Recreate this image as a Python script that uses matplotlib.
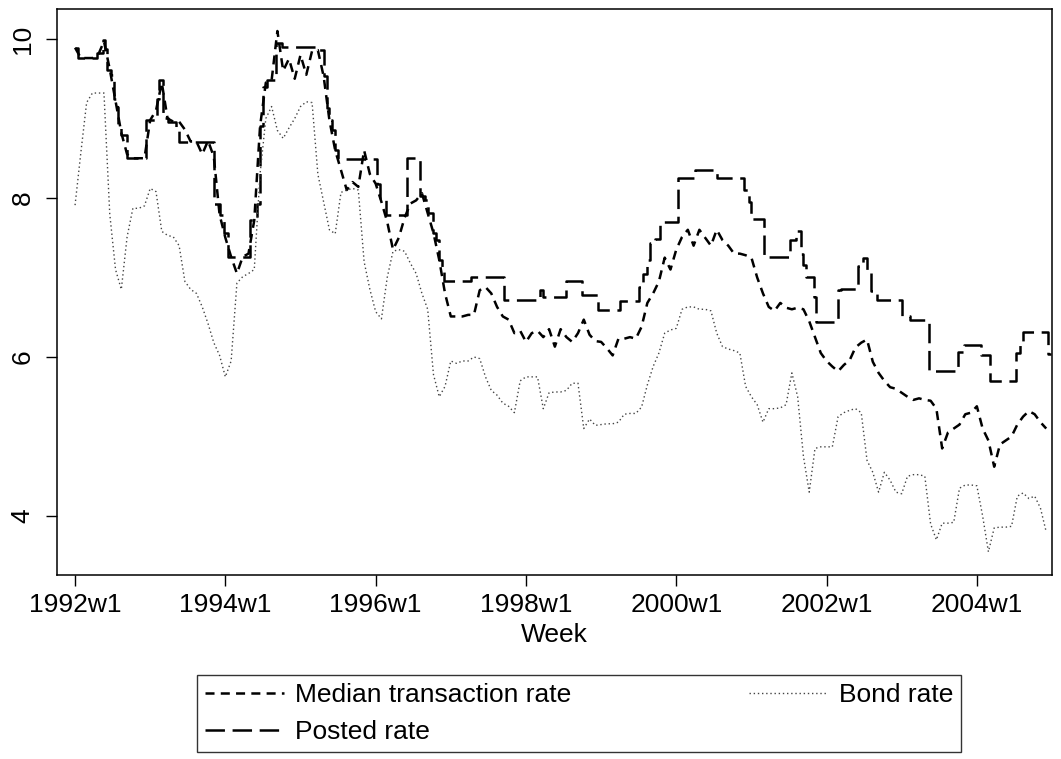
import matplotlib
matplotlib.use('Agg')
import matplotlib.pyplot as plt

plt.rcParams['font.family'] = ['Liberation Sans', 'DejaVu Sans']
plt.rcParams['lines.scale_dashes'] = False

### Data (weeks counted from 1992w1, 52 weeks per year) ###

# Median transaction rate and bond rate, read every 4 weeks
sample_weeks = list(range(0, 673, 4))

median_rate = [
    9.89, 9.76, 9.76, 9.76, 9.80, 9.97, 9.62, 9.22, 8.82, 8.55, 8.50, 8.50, 8.50,  # 1992
    8.98, 9.10, 9.45, 9.00, 8.96, 8.96, 8.86, 8.71, 8.71, 8.55, 8.72, 8.52, 7.79,  # 1993
    7.50, 7.26, 7.05, 7.26, 7.30, 7.72, 8.90, 9.45, 9.48, 10.10, 9.60, 9.75, 9.50, # 1994
    9.80, 9.55, 9.85, 9.86, 9.53, 8.98, 8.60, 8.35, 8.10, 8.20, 8.14, 8.60, 8.30,  # 1995
    8.18, 7.95, 7.70, 7.35, 7.50, 7.75, 7.93, 7.97, 8.06, 7.81, 7.56, 7.22, 6.80,  # 1996
    6.51, 6.51, 6.51, 6.53, 6.53, 6.84, 6.88, 6.80, 6.63, 6.51, 6.47, 6.30, 6.33,  # 1997
    6.19, 6.30, 6.33, 6.25, 6.35, 6.13, 6.35, 6.25, 6.19, 6.30, 6.47, 6.28, 6.20,  # 1998
    6.19, 6.11, 6.02, 6.23, 6.23, 6.25, 6.23, 6.38, 6.68, 6.80, 6.95, 7.25, 7.10,  # 1999
    7.35, 7.51, 7.60, 7.40, 7.60, 7.50, 7.40, 7.60, 7.47, 7.40, 7.30, 7.30, 7.28,  # 2000
    7.25, 7.00, 6.80, 6.63, 6.58, 6.68, 6.62, 6.60, 6.62, 6.60, 6.45, 6.25, 6.05,  # 2001
    5.95, 5.88, 5.82, 5.90, 5.96, 6.12, 6.18, 6.22, 5.94, 5.80, 5.70, 5.62, 5.60,  # 2002
    5.55, 5.50, 5.46, 5.48, 5.46, 5.45, 5.35, 4.85, 5.05, 5.10, 5.15, 5.28, 5.30,  # 2003
    5.38, 5.10, 4.95, 4.62, 4.90, 4.95, 5.00, 5.15, 5.25, 5.32, 5.28, 5.18, 5.10,  # 2004
]

bond_rate = [
    7.91, 8.57, 9.20, 9.32, 9.32, 9.32, 7.80, 7.10, 6.85, 7.51, 7.87, 7.87, 7.90,  # 1992
    8.12, 8.08, 7.58, 7.53, 7.51, 7.40, 6.95, 6.85, 6.80, 6.63, 6.42, 6.18, 6.02,  # 1993
    5.75, 5.95, 6.93, 7.01, 7.05, 7.10, 8.30, 9.00, 9.15, 8.85, 8.75, 8.88, 9.00,  # 1994
    9.15, 9.21, 9.20, 8.30, 7.95, 7.60, 7.55, 8.07, 8.10, 8.12, 8.10, 7.20, 6.85,  # 1995
    6.57, 6.48, 7.00, 7.33, 7.35, 7.33, 7.18, 7.05, 6.80, 6.60, 5.78, 5.50, 5.63,  # 1996
    5.95, 5.92, 5.95, 5.95, 6.00, 5.98, 5.75, 5.58, 5.52, 5.42, 5.38, 5.30, 5.70,  # 1997
    5.75, 5.75, 5.75, 5.35, 5.55, 5.56, 5.56, 5.58, 5.67, 5.67, 5.10, 5.22, 5.14,  # 1998
    5.15, 5.16, 5.16, 5.18, 5.28, 5.29, 5.29, 5.37, 5.65, 5.88, 6.05, 6.30, 6.34,  # 1999
    6.36, 6.60, 6.63, 6.63, 6.60, 6.60, 6.58, 6.30, 6.13, 6.10, 6.08, 6.05, 5.63,  # 2000
    5.50, 5.40, 5.18, 5.35, 5.35, 5.36, 5.40, 5.80, 5.50, 4.75, 4.30, 4.85, 4.87,  # 2001
    4.87, 4.87, 5.25, 5.30, 5.33, 5.35, 5.30, 4.70, 4.55, 4.30, 4.55, 4.45, 4.30,  # 2002
    4.28, 4.50, 4.52, 4.52, 4.50, 3.90, 3.70, 3.91, 3.91, 3.92, 4.35, 4.39, 4.39,  # 2003
    4.38, 4.00, 3.55, 3.85, 3.86, 3.86, 3.87, 4.25, 4.29, 4.22, 4.25, 4.10, 3.80,  # 2004
]

# Posted rate: week at which each new level starts
posted_weeks = [
    0, 2, 15, 19, 21, 22, 25, 27, 29, 30, 32, 36, 49, 57, 58, 61, 64, 70, 72, 96,
    100, 103, 106, 121, 126, 128, 130, 133, 139, 143, 167, 172, 174, 176, 178, 180,
    182, 209, 211, 215, 230, 239, 242, 244, 248, 250, 252, 254, 255, 274, 297, 322,
    324, 340, 351, 362, 377, 390, 393, 396, 398, 401, 405, 417, 429, 444, 463, 466,
    468, 477, 495, 499, 502, 504, 506, 511, 513, 528, 530, 542, 545, 548, 551, 555,
    572, 578, 591, 611, 615, 627, 633, 651, 654, 656, 673, 675,
]
posted_rate = [
    9.89, 9.76, 9.82, 9.99, 9.88, 9.61, 9.55, 9.25, 9.15, 8.88, 8.79, 8.50, 8.98,
    9.25, 9.48, 9.00, 8.96, 8.86, 8.71, 7.93, 7.79, 7.56, 7.26, 7.72, 7.93, 8.90,
    9.40, 9.48, 9.95, 9.90, 9.86, 9.53, 9.13, 8.98, 8.86, 8.60, 8.49, 8.18, 7.97,
    7.79, 8.50, 8.02, 7.97, 7.81, 7.56, 7.47, 7.22, 7.09, 6.95, 7.00, 6.72, 6.84,
    6.76, 6.95, 6.78, 6.59, 6.70, 6.88, 7.05, 7.22, 7.43, 7.49, 7.70, 8.25, 8.35,
    8.25, 8.10, 7.95, 7.74, 7.26, 7.47, 7.58, 7.30, 7.16, 7.01, 6.76, 6.44, 6.84,
    6.86, 7.14, 7.25, 7.09, 6.83, 6.72, 6.52, 6.47, 5.82, 6.06, 6.15, 6.02, 5.70,
    6.05, 6.20, 6.31, 6.04, 6.04,
]

tick_weeks = [0, 104, 208, 312, 416, 520, 624]
tick_labels = ['1992w1', '1994w1', '1996w1', '1998w1', '2000w1', '2002w1', '2004w1']

### Plot ###

fig = plt.figure(figsize=(10.61, 7.59), dpi=100)
ax = fig.add_axes([57 / 1061, 1 - 575 / 759, 995 / 1061, 566 / 759])

median_line, = ax.plot(sample_weeks, median_rate, color='black', linewidth=1.8,
                       dashes=(6.5, 4.5), label='Median transaction rate')
posted_line, = ax.step(posted_weeks, posted_rate, where='post', color='black',
                       linewidth=1.8, dashes=(14, 5.5), label='Posted rate')
bond_line, = ax.plot(sample_weeks, bond_rate, color='#444444', linewidth=1.0,
                     dashes=(1, 2), label='Bond rate')

ax.set_xlim(-12.5, 676)
ax.set_ylim(3.258, 10.377)

ax.set_xticks(tick_weeks)
ax.set_xticklabels(tick_labels)
ax.set_yticks([4, 6, 8, 10])
ax.set_yticklabels(['4', '6', '8', '10'], rotation=90, va='center')

ax.tick_params(axis='both', direction='out', length=8, width=1.0,
               labelsize=19, colors='black')
ax.tick_params(axis='x', pad=5)
ax.tick_params(axis='y', pad=8)
for spine in ax.spines.values():
    spine.set_linewidth(1.1)

ax.set_xlabel('Week', fontsize=19, labelpad=4)

leg = fig.legend(
    handles=[median_line, posted_line, bond_line],
    loc='lower center',
    bbox_to_anchor=(579 / 1061, 7 / 759),
    borderaxespad=0,
    ncol=2,
    fontsize=19,
    frameon=True,
    fancybox=False,
    edgecolor='black',
    handlelength=3.0,
    handletextpad=0.4,
    columnspacing=6.75,
    labelspacing=0.5,
    borderpad=0.3,
)
leg.get_frame().set_linewidth(1.0)

fig.savefig('out.png', dpi=100)
